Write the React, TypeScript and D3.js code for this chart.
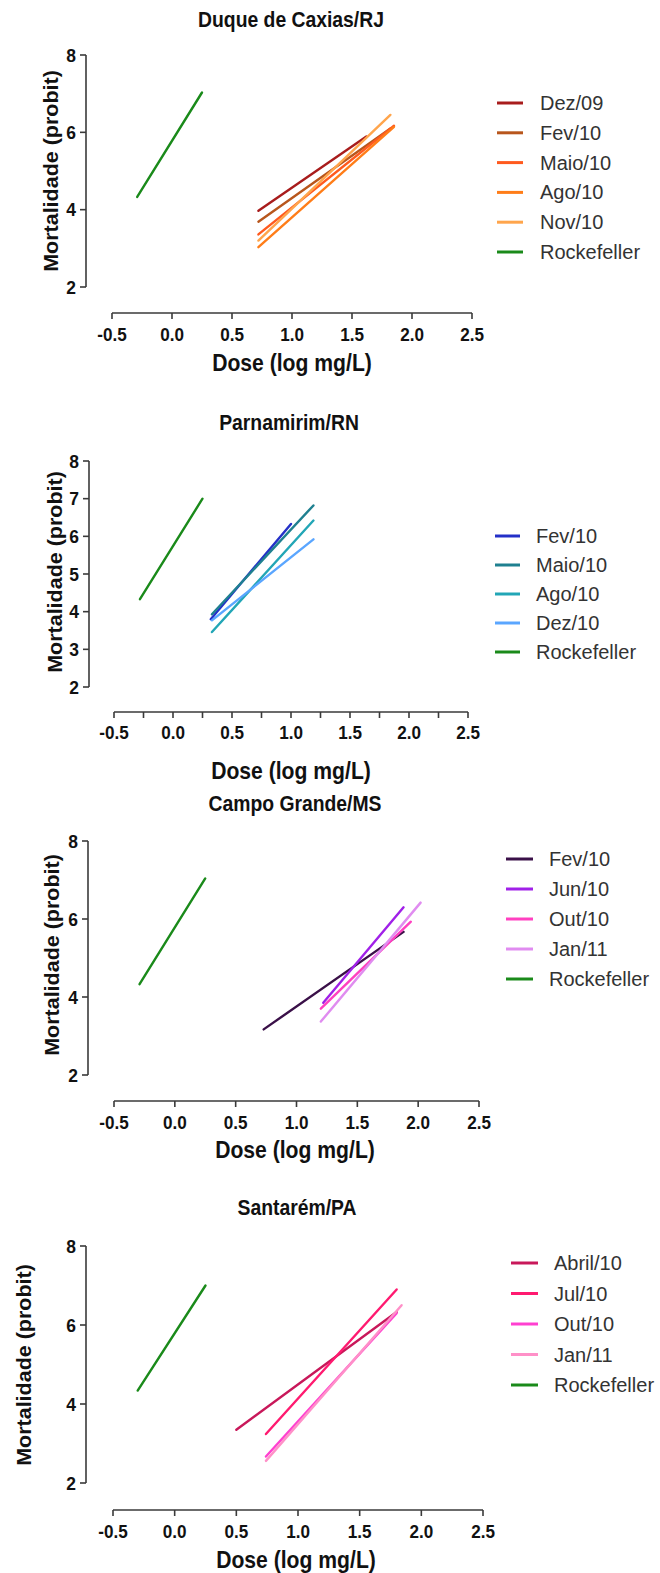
import React from "react";
import * as d3 from "d3";

// ---------- DATA ----------
const xTickValues = [-0.5, 0.0, 0.5, 1.0, 1.5, 2.0, 2.5];
const xTickLabels = ["-0.5", "0.0", "0.5", "1.0", "1.5", "2.0", "2.5"];
const yTicksEven = [2, 4, 6, 8];
const yTicksAll = [2, 3, 4, 5, 6, 7, 8];

const titles = ["Duque de Caxias/RJ", "Parnamirim/RN", "Campo Grande/MS", "Santarém/PA"];
const xAxisTitle = "Dose (log mg/L)";
const yAxisTitle = "Mortalidade (probit)";

// Panel 1 — Duque de Caxias/RJ
const p1Series = ["Dez/09", "Fev/10", "Maio/10", "Ago/10", "Nov/10", "Rockefeller"];
const p1DoseStart = [0.72, 0.72, 0.72, 0.72, 0.72, -0.29];
const p1DoseEnd = [1.62, 1.82, 1.85, 1.85, 1.82, 0.25];
const p1ProbitStart = [3.97, 3.69, 3.36, 3.03, 3.2, 4.33];
const p1ProbitEnd = [5.89, 6.1, 6.17, 6.14, 6.45, 7.03];
const p1Colors = ["#a81c1c", "#b8561c", "#ff5a1e", "#ff7d18", "#ffa54c", "#1a8a1a"];

// Panel 2 — Parnamirim/RN
const p2Series = ["Fev/10", "Maio/10", "Ago/10", "Dez/10", "Rockefeller"];
const p2DoseStart = [0.32, 0.33, 0.33, 0.33, -0.28];
const p2DoseEnd = [1.0, 1.19, 1.19, 1.19, 0.25];
const p2ProbitStart = [3.8, 3.93, 3.46, 3.77, 4.33];
const p2ProbitEnd = [6.33, 6.82, 6.42, 5.92, 7.0];
const p2Colors = ["#2430c8", "#1f8090", "#22a6b6", "#5aa6ff", "#1a8a1a"];

// Panel 3 — Campo Grande/MS
const p3Series = ["Fev/10", "Jun/10", "Out/10", "Jan/11", "Rockefeller"];
const p3DoseStart = [0.73, 1.22, 1.2, 1.2, -0.29];
const p3DoseEnd = [1.88, 1.88, 1.94, 2.02, 0.25];
const p3ProbitStart = [3.17, 3.85, 3.7, 3.37, 4.33];
const p3ProbitEnd = [5.67, 6.3, 5.93, 6.42, 7.04];
const p3Colors = ["#3a1048", "#a020e8", "#ff40c0", "#e08cf0", "#1a8a1a"];

// Panel 4 — Santarém/PA
const p4Series = ["Abril/10", "Jul/10", "Out/10", "Jan/11", "Rockefeller"];
const p4DoseStart = [0.5, 0.74, 0.74, 0.74, -0.3];
const p4DoseEnd = [1.8, 1.8, 1.8, 1.84, 0.25];
const p4ProbitStart = [3.35, 3.24, 2.67, 2.56, 4.34];
const p4ProbitEnd = [6.33, 6.9, 6.3, 6.5, 7.0];
const p4Colors = ["#c8185a", "#ff1a70", "#ff40d0", "#ff90c8", "#1a8a1a"];

// ---------- LAYOUT ----------
type Layout = {
  titleX: number; titleY: number;
  yAxisX: number; yTop: number; yBottom: number;
  xAxisY: number; xLeft: number; xRight: number;
  tickLabelY: number; xTitleX: number; xTitleY: number;
  yTitleX: number; yTitleY: number;
  legLineX0: number; legLineX1: number; legY0: number; legStep: number; legTextX: number;
  minorX: boolean; yTicks: number[];
};

const layouts: Layout[] = [
  { titleX: 291, titleY: 19, yAxisX: 86, yTop: 55, yBottom: 287, xAxisY: 313, xLeft: 112, xRight: 472,
    tickLabelY: 335, xTitleX: 292, xTitleY: 363, yTitleX: 51, yTitleY: 171,
    legLineX0: 497, legLineX1: 523, legY0: 103, legStep: 29.8, legTextX: 540, minorX: false, yTicks: yTicksEven },
  { titleX: 289, titleY: 422, yAxisX: 89, yTop: 461, yBottom: 687, xAxisY: 712, xLeft: 114, xRight: 468,
    tickLabelY: 733, xTitleX: 291, xTitleY: 771, yTitleX: 55, yTitleY: 572,
    legLineX0: 495, legLineX1: 520, legY0: 536, legStep: 29, legTextX: 536, minorX: true, yTicks: yTicksAll },
  { titleX: 295, titleY: 803, yAxisX: 88, yTop: 841, yBottom: 1075, xAxisY: 1101, xLeft: 114, xRight: 479,
    tickLabelY: 1123, xTitleX: 295, xTitleY: 1150, yTitleX: 52, yTitleY: 955,
    legLineX0: 506, legLineX1: 533, legY0: 859, legStep: 30, legTextX: 549, minorX: false, yTicks: yTicksEven },
  { titleX: 297, titleY: 1207, yAxisX: 86, yTop: 1246, yBottom: 1483, xAxisY: 1510, xLeft: 113, xRight: 483,
    tickLabelY: 1532, xTitleX: 296, xTitleY: 1560, yTitleX: 24, yTitleY: 1365,
    legLineX0: 511, legLineX1: 538, legY0: 1263, legStep: 30.5, legTextX: 554, minorX: false, yTicks: yTicksEven },
];

const panels = [
  { title: titles[0], names: p1Series, x0: p1DoseStart, x1: p1DoseEnd, y0: p1ProbitStart, y1: p1ProbitEnd, colors: p1Colors },
  { title: titles[1], names: p2Series, x0: p2DoseStart, x1: p2DoseEnd, y0: p2ProbitStart, y1: p2ProbitEnd, colors: p2Colors },
  { title: titles[2], names: p3Series, x0: p3DoseStart, x1: p3DoseEnd, y0: p3ProbitStart, y1: p3ProbitEnd, colors: p3Colors },
  { title: titles[3], names: p4Series, x0: p4DoseStart, x1: p4DoseEnd, y0: p4ProbitStart, y1: p4ProbitEnd, colors: p4Colors },
];

const FONT = "'Liberation Sans', Arial, sans-serif";
const AXIS = "#3a3a3a";

function BoldText({ x, y, size, sx, anchor, children }: any) {
  return (
    <text transform={`translate(${x},${y}) scale(${sx},1)`} textAnchor={anchor} dominantBaseline="central"
      fontFamily={FONT} fontWeight="bold" fontSize={size} fill="#111">{children}</text>
  );
}

function Panel({ p, L }: { p: typeof panels[number]; L: Layout }) {
  const x = d3.scaleLinear().domain([-0.5, 2.5]).range([L.xLeft, L.xRight]);
  const y = d3.scaleLinear().domain([2, 8]).range([L.yBottom, L.yTop]);
  const line = d3.line<[number, number]>().x((d) => x(d[0])).y((d) => y(d[1]));
  const minor = L.minorX ? d3.range(-0.5, 2.5001, 0.25) : xTickValues;
  return (
    <g>
      <BoldText x={L.titleX} y={L.titleY} size={21.5} sx={0.9} anchor="middle">{p.title}</BoldText>

      {/* Y axis */}
      <line x1={L.yAxisX} x2={L.yAxisX} y1={y(8)} y2={y(2)} stroke={AXIS} strokeWidth={1.6} />
      {L.yTicks.map((t) => (
        <g key={"yt" + t}>
          <line x1={L.yAxisX - 6} x2={L.yAxisX} y1={y(t)} y2={y(t)} stroke={AXIS} strokeWidth={1.6} />
          <BoldText x={L.yAxisX - 10} y={y(t)} size={19} sx={0.92} anchor="end">{t}</BoldText>
        </g>
      ))}
      <text transform={`translate(${L.yTitleX},${L.yTitleY}) rotate(-90) scale(1,0.9)`} textAnchor="middle"
        dominantBaseline="central" fontFamily={FONT} fontWeight="bold" fontSize={21.5} fill="#111">{yAxisTitle}</text>

      {/* X axis */}
      <line x1={x(-0.5)} x2={x(2.5)} y1={L.xAxisY} y2={L.xAxisY} stroke={AXIS} strokeWidth={1.6} />
      {minor.map((t) => (
        <line key={"xm" + t} x1={x(t)} x2={x(t)} y1={L.xAxisY} y2={L.xAxisY + 6} stroke={AXIS} strokeWidth={1.6} />
      ))}
      {xTickValues.map((t, i) => (
        <BoldText key={"xl" + t} x={x(t)} y={L.tickLabelY} size={19} sx={0.9} anchor="middle">{xTickLabels[i]}</BoldText>
      ))}
      <BoldText x={L.xTitleX} y={L.xTitleY} size={23} sx={0.92} anchor="middle">{xAxisTitle}</BoldText>

      {/* Data lines */}
      {p.names.map((n, i) => (
        <path key={"l" + n} d={line([[p.x0[i], p.y0[i]], [p.x1[i], p.y1[i]]]) || ""}
          stroke={p.colors[i]} strokeWidth={2.4} fill="none" strokeLinecap="round" />
      ))}

      {/* Legend */}
      {p.names.map((n, i) => (
        <g key={"lg" + n}>
          <line x1={L.legLineX0} x2={L.legLineX1} y1={L.legY0 + i * L.legStep} y2={L.legY0 + i * L.legStep}
            stroke={p.colors[i]} strokeWidth={3} />
          <text x={L.legTextX} y={L.legY0 + i * L.legStep} dominantBaseline="central"
            fontFamily={FONT} fontSize={20} fill="#333">{n}</text>
        </g>
      ))}
    </g>
  );
}

export default function App() {
  return (
    <svg width={660} height={1573} style={{ position: "absolute", left: 0, top: 0, background: "#fff" }}>
      <rect width={660} height={1573} fill="#fff" />
      {panels.map((p, i) => (
        <Panel key={i} p={p} L={layouts[i]} />
      ))}
    </svg>
  );
}
